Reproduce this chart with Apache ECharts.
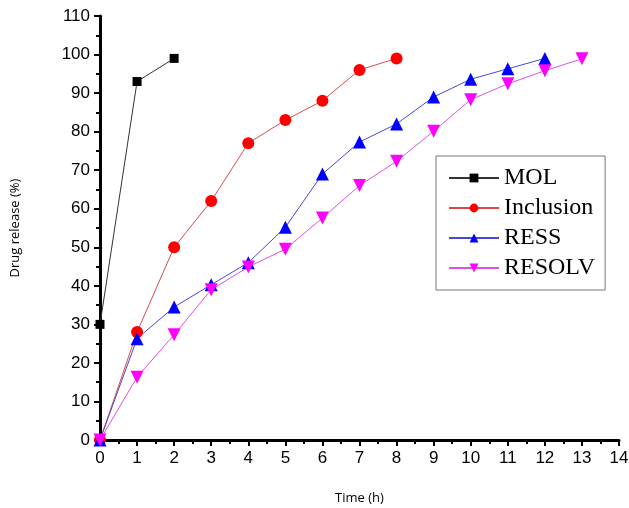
<!DOCTYPE html>
<html>
<head>
<meta charset="utf-8">
<script src="https://cdn.jsdelivr.net/npm/echarts@6/dist/echarts.min.js"></script>
<style>
  html, body { margin: 0; padding: 0; background: #fff; }
  #main { width: 629px; height: 508px; }
</style>
</head>
<body>
<div id="main"></div>
<script>
// release data (time in h, release in %)
var molTime = [0, 1, 2];
var molRelease = [30, 93, 99];

var inclusionTime = [0, 1, 2, 3, 4, 5, 6, 7, 8];
var inclusionRelease = [0, 28, 50, 62, 77, 83, 88, 96, 99];

var ressTime = [0, 1, 2, 3, 4, 5, 6, 7, 8, 9, 10, 11, 12];
var ressRelease = [0, 26.3, 34.5, 40.3, 46, 55.2, 69, 77.3, 82, 89, 93.6, 96.3, 99];

var resolvTime = [0, 1, 2, 3, 4, 5, 6, 7, 8, 9, 10, 11, 12, 13];
var resolvRelease = [0, 16.3, 27.3, 39, 44.9, 49.5, 57.6, 66, 72.3, 80.1, 88.3, 92.4, 95.8, 98.9];

function pairs(xs, ys) {
  return xs.map(function (x, i) { return [x, ys[i]]; });
}

function lineSeries(name, xs, ys, color, lineColor, symbol, size) {
  return {
    name: name,
    type: 'line',
    data: pairs(xs, ys),
    symbol: symbol,
    symbolSize: size,
    showSymbol: true,
    lineStyle: { color: lineColor, width: 1 },
    itemStyle: { color: color },
    emphasis: { disabled: true },
    animation: false
  };
}

var myChart = echarts.init(document.getElementById('main'));

var axisFont = { fontFamily: 'Liberation Sans', fontSize: 17, color: '#000' };

myChart.setOption({
  backgroundColor: '#fff',
  grid: { left: 100, right: 10, top: 16, bottom: 68, outerBoundsMode: 'none' },
  legend: {
    orient: 'vertical',
    left: 436,
    top: 156,
    width: 170,
    padding: [10, 10, 10, 12],
    itemGap: 6,
    itemWidth: 50,
    itemHeight: 11,
    borderColor: '#777',
    borderWidth: 1,
    borderRadius: 0,
    textStyle: { fontFamily: 'Liberation Serif', fontSize: 24, color: '#000' },
    data: ['MOL', 'Inclusion', 'RESS', 'RESOLV']
  },
  xAxis: {
    type: 'value',
    min: 0,
    max: 14,
    interval: 1,
    name: 'Time (h)',
    nameLocation: 'middle',
    nameGap: 52,
    nameTextStyle: { fontFamily: 'Open Sans', fontSize: 13, color: '#000' },
    axisLine: { show: true, onZero: false, lineStyle: { color: '#000', width: 3 } },
    axisTick: { show: true, length: 6, lineStyle: { color: '#000', width: 2 } },
    minorTick: { show: true, splitNumber: 2, length: 4, lineStyle: { color: '#000', width: 2 } },
    axisLabel: Object.assign({ margin: 10 }, axisFont),
    splitLine: { show: false }
  },
  yAxis: {
    type: 'value',
    min: 0,
    max: 110,
    interval: 10,
    name: 'Drug release (%)',
    nameLocation: 'middle',
    nameGap: 78,
    nameTextStyle: { fontFamily: 'Open Sans', fontSize: 13, color: '#000' },
    axisLine: { show: true, lineStyle: { color: '#000', width: 3 } },
    axisTick: { show: true, length: 6, lineStyle: { color: '#000', width: 2 } },
    minorTick: { show: true, splitNumber: 2, length: 4, lineStyle: { color: '#000', width: 2 } },
    axisLabel: Object.assign({ margin: 10 }, axisFont),
    splitLine: { show: false }
  },
  series: [
    lineSeries('MOL', molTime, molRelease, '#000000', '#333333', 'rect', 9),
    lineSeries('Inclusion', inclusionTime, inclusionRelease, '#ff0000', '#e04848', 'circle', 12),
    lineSeries('RESS', ressTime, ressRelease, '#0000ff', '#4848d8', 'triangle', 13),
    lineSeries('RESOLV', resolvTime, resolvRelease, '#ff00ff', '#e050e0', 'path://M0,0 L10,0 L5,9 Z', 13)
  ]
});
</script>
</body>
</html>
